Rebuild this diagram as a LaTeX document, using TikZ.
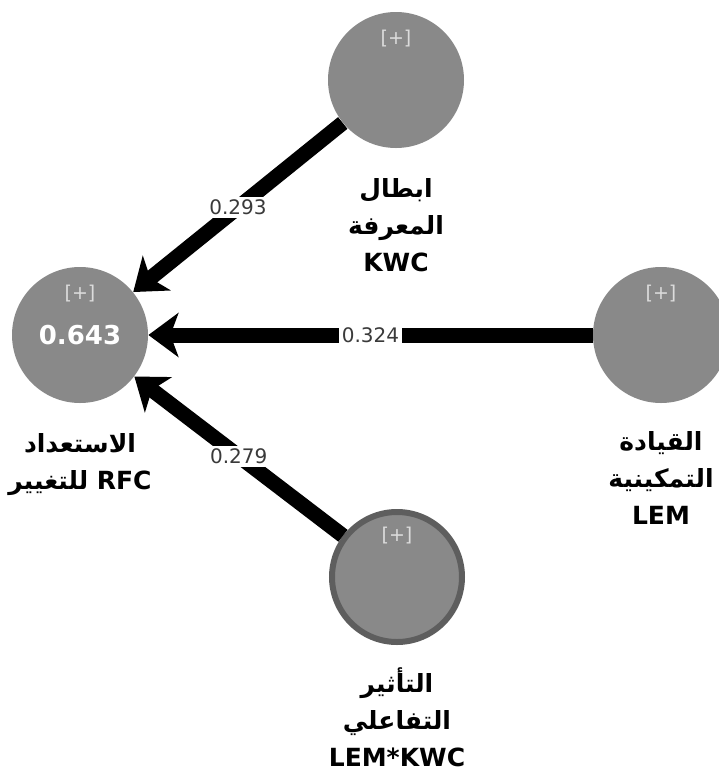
\documentclass[tikz,border=0pt]{standalone}
\usepackage{fontspec}
\setmainfont{DejaVu Sans}
\newfontfamily\arabicfont[Script=Arabic]{DejaVu Sans}
\TeXXeTstate=1
\usetikzlibrary{arrows.meta,positioning}
\definecolor{lvfill}{HTML}{898989}
\definecolor{lvline}{HTML}{5E5E5E}
\definecolor{plusgrey}{HTML}{DCDCDC}
\definecolor{coefgrey}{HTML}{3A3A3A}
\newcommand{\artxt}[1]{{\arabicfont\bfseries\beginR #1\endR}}
\tikzset{
  lv/.style={circle,fill=lvfill,minimum size=68pt,inner sep=0pt,
             font=\bfseries\fontsize{13}{15}\selectfont,text=white,
             label={[plusmark]center:{[+]}}},
  lvint/.style={lv,draw=lvline,line width=3pt,minimum size=65pt},
  plusmark/.style={yshift=20.5pt,font=\fontsize{9.5}{11}\selectfont,text=plusgrey},
  nm/.style={align=center,inner sep=0pt,font=\bfseries\fontsize{12.5}{18.5}\selectfont},
  arr/.style={-{Stealth[length=15pt,width=22pt,inset=4pt]},line width=7.5pt,black},
  coef/.style={midway,fill=white,inner sep=1.5pt,font=\fontsize{10}{12}\selectfont,text=coefgrey}
}
\begin{document}
\begin{tikzpicture}[x=0.5pt,y=-0.5pt]
  \clip (0,0) rectangle (719,773);
  \useasboundingbox (0,0) rectangle (719,773);
  % latent variables
  \node[lv] (rfc) at (80,335) {0.643};
  \node[lv] (kwc) at (396,80) {};
  \node[lv] (lem) at (661,335) {};
  \node[lvint] (int) at (397,577) {};
  % names
  \node[nm,below=15pt of rfc] (rfcname) {\artxt{الاستعداد}\\ \artxt{للتغيير} RFC};
  \node[nm,below=15pt of kwc] (kwcname) {\artxt{ابطال}\\ \artxt{المعرفة}\\ KWC};
  \node[nm,below=14pt of lem.south] (lemname) {\artxt{القيادة}\\ \artxt{التمكينية}\\ LEM};
  \node[nm,below=11pt of int] (intname) {\artxt{التأثير}\\ \artxt{التفاعلي}\\ LEM*KWC};
  % paths
  \draw[arr] (kwc) -- (rfc) node[coef] {0.293};
  \draw[arr] (lem) -- (rfc) node[coef] {0.324};
  \draw[arr] (int) -- (rfc) node[coef] {0.279};
\end{tikzpicture}
\end{document}
